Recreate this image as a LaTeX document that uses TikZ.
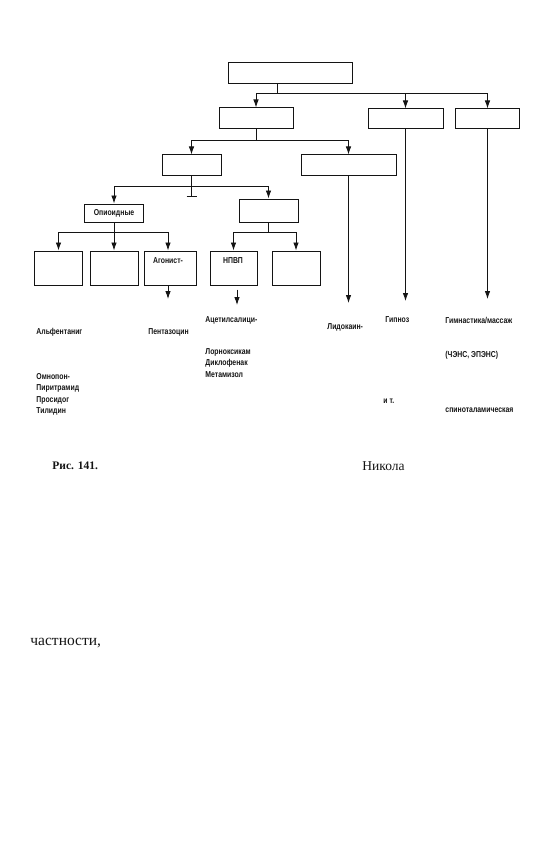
\documentclass[tikz,border=0pt]{standalone}
\usepackage{fontspec}
\setmainfont{Liberation Serif}
\setsansfont{Liberation Sans}
\newfontfamily\narrowsans[FakeStretch=0.8]{Liberation Sans}
\usetikzlibrary{arrows.meta}
\definecolor{InkBlack}{HTML}{141414}

\begin{document}
\begin{tikzpicture}[x=1pt, y=-1pt, font=\narrowsans\bfseries\fontsize{8.6}{11.5}\selectfont,
    >={Latex[length=8pt,width=5.5pt]}, line width=0.85pt, draw=InkBlack, text=InkBlack,
    box/.style={draw=InkBlack, line width=1pt, inner sep=0pt},
    item/.style={anchor=west, inner sep=0pt, align=left},
    caption/.style={anchor=west, inner sep=0pt, font=\rmfamily\fontsize{12}{14}\selectfont}]
  \useasboundingbox (0,0) rectangle (556,845);

  % boxes of the scheme
  \node[box, minimum width=124pt, minimum height=21pt] (top) at (290,73.5) {};
  \node[box, minimum width=74pt, minimum height=21pt] (pharm) at (256,118.5) {};
  \node[box, minimum width=75pt, minimum height=20pt] (psych) at (405.5,119) {};
  \node[box, minimum width=64pt, minimum height=20pt] (phys) at (487.5,119) {};
  \node[box, minimum width=59pt, minimum height=21pt] (syst) at (191.5,165.5) {};
  \node[box, minimum width=95pt, minimum height=21pt] (local) at (348.5,165.5) {};
  \node[box, minimum width=59pt, minimum height=18pt] (opi) at (114,213) {Опиоидные};
  \node[box, minimum width=59pt, minimum height=23pt] (nonopi) at (268.5,210.5) {};
  \node[box, minimum width=48pt, minimum height=34pt] (full) at (58.5,268) {};
  \node[box, minimum width=48pt, minimum height=34pt] (weak) at (114,268) {};
  \node[box, minimum width=52pt, minimum height=34pt] (agon) at (170,268) {};
  \node[anchor=north, inner sep=0pt] (agontxt) at (168,257) {Агонист-};
  \node[box, minimum width=47pt, minimum height=34pt] (nsaid) at (233.5,268) {};
  \node[anchor=north, inner sep=0pt] (nsaidtxt) at (233,257) {НПВП};
  \node[box, minimum width=48pt, minimum height=34pt] (other) at (296,268) {};

  % branching points
  \coordinate (busT) at (277,93);
  \coordinate (busP) at (256,140);
  \coordinate (busS) at (191.5,186);
  \coordinate (tickS) at (191.5,196);
  \coordinate (busO) at (114,232);
  \coordinate (busN) at (268.5,232);

  \draw (top.south -| busT) -- (busT);
  \draw[->] (busT) -| (pharm.north);
  \draw[->] (busT) -| (psych.north);
  \draw[->] (busT) -| (phys.north);

  \draw (pharm.south) -- (busP);
  \draw[->] (busP) -| (syst.north);
  \draw[->] (busP) -| (local.north);

  \draw (syst.south) -- (tickS);
  \draw ([xshift=-5pt]tickS) -- ([xshift=5pt]tickS);
  \draw[->] (busS) -| (opi.north);
  \draw[->] (busS) -| (nonopi.north);

  \draw (opi.south) -- (busO);
  \draw[->] (busO) -| (full.north);
  \draw[->] (busO) -- (weak.north);
  \draw[->] (busO) -| ([xshift=-2pt]agon.north);

  \draw (nonopi.south) -- (busN);
  \draw[->] (busN) -| (nsaid.north);
  \draw[->] (busN) -| (other.north);

  % arrows down to the lists
  \coordinate (tipA) at (168,299);
  \coordinate (tipN) at (237,305);
  \coordinate (tipL) at (348.5,303);
  \coordinate (tipP) at (405.5,301);
  \coordinate (tipF) at (487.5,299);
  \draw[->] (agon.south -| tipA) -- (tipA);
  \draw[->] ([yshift=-4pt]nsaid.south -| tipN) -- (tipN);
  \draw[->] (local.south) -- (tipL);
  \draw[->] (psych.south) -- (tipP);
  \draw[->] (phys.south) -- (tipF);

  % lists of means
  \node[item] (alf) at (36,332) {Альфентаниг};
  \node[item, anchor=north west] (omn) at (36,373) {Омнопон-\\Пиритрамид\\Просидог\\Тилидин};
  \node[item] (pent) at (148,332) {Пентазоцин};
  \node[item] (asa) at (205,320) {Ацетилсалици-};
  \node[item, anchor=north west] (lor) at (205,348) {Лорноксикам\\Диклофенак\\Метамизол};
  \node[item] (lid) at (327,327) {Лидокаин-};
  \node[item] (hyp) at (385,320) {Гипноз};
  \node[item] (etc) at (383,401) {и т.};
  \node[item] (gym) at (445,320) {Гимнастика/массаж};
  \node[item] (tens) at (445,355) {(ЧЭНС, ЭПЭНС)};
  \node[item] (spino) at (445,410) {спиноталамическая};

  % caption and page text
  \node[caption, font=\rmfamily\bfseries\fontsize{11.5}{14}\selectfont] (fig) at (52,466) {Рис. 141.};
  \node[caption, font=\rmfamily\fontsize{13.5}{15}\selectfont] (nik) at (362,466) {Никола};
  \node[caption, font=\rmfamily\fontsize{15.5}{17}\selectfont] (part) at (30,643) {частности,};
\end{tikzpicture}
\end{document}
